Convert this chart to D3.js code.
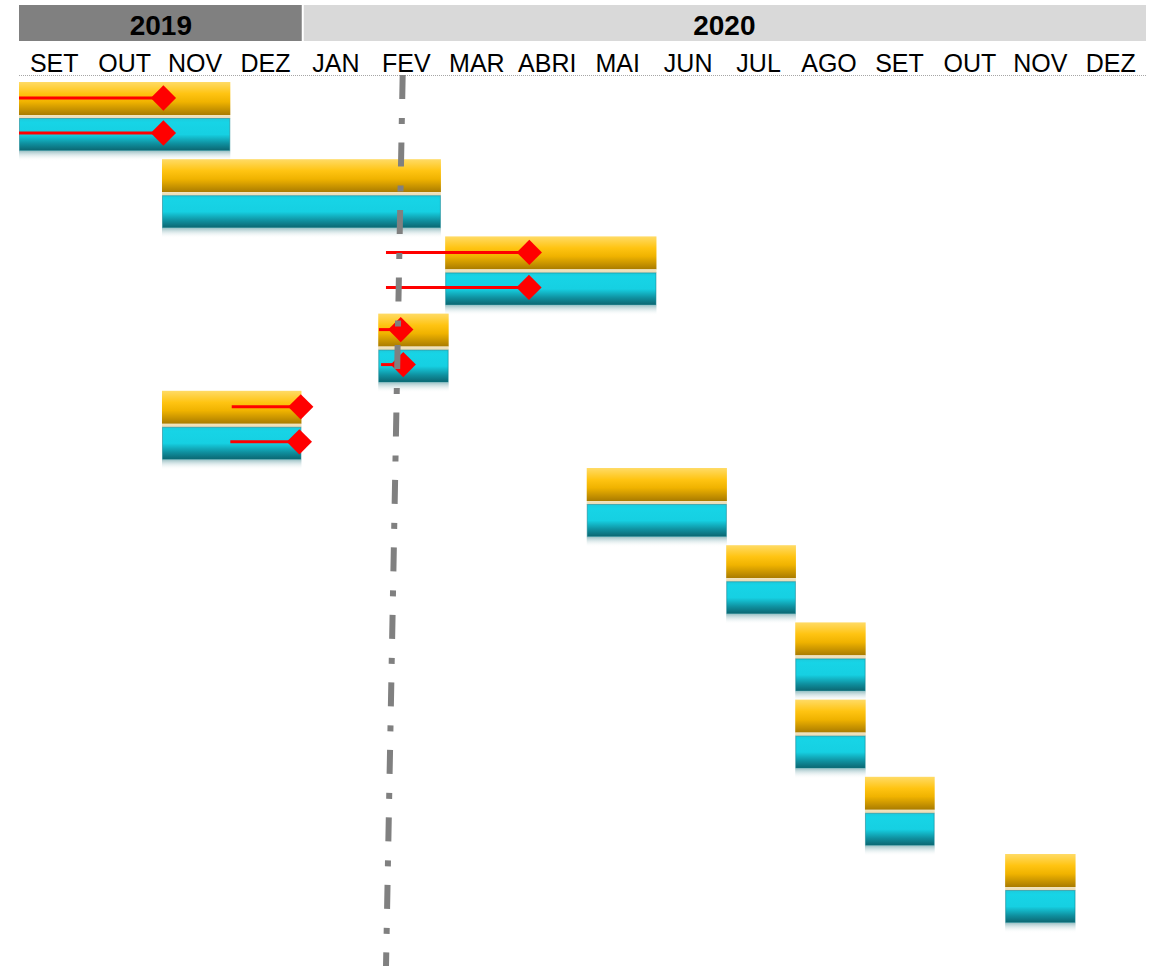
<!DOCTYPE html>
<html>
<head>
<meta charset="utf-8">
<script src="https://cdn.jsdelivr.net/npm/d3@7"></script>
<style>
  body { margin: 0; background: #fff; }
  text { font-family: "Liberation Sans", Arial, sans-serif; }
</style>
</head>
<body>
<div id="chart"></div>
<script>
// header data
var years = ["2019", "2020"];
var yearFrom = [0, 4];
var yearTo = [4, 16];
var months = ["SET", "OUT", "NOV", "DEZ", "JAN", "FEV", "MAR", "ABRI", "MAI", "JUN", "JUL", "AGO", "SET", "OUT", "NOV", "DEZ"];

// bars, in months since SET 2019
var barStart = [0, 2.03, 6.05, 5.1, 2.03, 8.06, 10.04, 11.02, 11.02, 12.01, 14.0];
var barEnd = [3.0, 5.99, 9.05, 6.1, 4.01, 10.05, 11.03, 12.02, 12.02, 13.0, 15.0];

// progress lines (red) on the orange and on the teal bar
var progOrangeFrom = [0, null, 5.21, 5.11, 3.02, null, null, null, null, null, null];
var progOrangeTo = [2.05, null, 7.245, 5.42, 4.0, null, null, null, null, null, null];
var progTealFrom = [0, null, 5.21, 5.14, 3.0, null, null, null, null, null, null];
var progTealTo = [2.05, null, 7.24, 5.455, 3.98, null, null, null, null, null, null];

// status date line (top, bottom)
var todayTop = 5.447;
var todayBottom = 5.21;

var W = 1161, H = 966;

var svg = d3.select("#chart").append("svg")
  .attr("width", W)
  .attr("height", H);

var x = d3.scaleLinear()
  .domain([0, 16])
  .range([19, 1146]);

var rows = d3.range(barStart.length);
var y = d3.scaleBand()
  .domain(rows)
  .range([82, 82 + rows.length * 77.2]);

var defs = svg.append("defs");

function grad(id, stops) {
  var g = defs.append("linearGradient")
    .attr("id", id)
    .attr("x1", 0).attr("y1", 0).attr("x2", 0).attr("y2", 1);
  stops.forEach(function (s) {
    g.append("stop").attr("offset", s[0]).attr("stop-color", s[1]).attr("stop-opacity", s[2] == null ? 1 : s[2]);
  });
}
grad("orangeGrad", [["0%", "#ffdb66"], ["35%", "#ffc412"], ["60%", "#f0b300"], ["100%", "#a97b00"]]);
grad("tealGrad", [["0%", "#1ccbdc"], ["12%", "#17d4e6"], ["50%", "#16d0e2"], ["78%", "#0f909f"], ["100%", "#0b6671"]]);
grad("stripGrad", [["0%", "#f3e4bd"], ["100%", "#e8dab5"]]);
grad("shadowGrad", [["0%", "#9fc3c7"], ["100%", "#ffffff", 0]]);

// year header
var header = svg.append("g");
header.selectAll("rect")
  .data(years)
  .enter()
  .append("rect")
  .attr("x", function (d, i) { return i == 0 ? x(yearFrom[i]) : x(yearFrom[i]) + 3; })
  .attr("y", 5)
  .attr("width", function (d, i) { return i == 0 ? x(yearTo[i]) - x(yearFrom[i]) + 1 : x(yearTo[i]) - x(yearFrom[i]) - 3; })
  .attr("height", 36)
  .style("fill", function (d, i) { return i == 0 ? "#808080" : "#d9d9d9"; });

header.selectAll("text")
  .data(years)
  .enter()
  .append("text")
  .attr("x", function (d, i) { return (x(yearFrom[i]) + x(yearTo[i])) / 2 + 1; })
  .attr("y", 35)
  .attr("text-anchor", "middle")
  .style("font-size", "28px")
  .style("font-weight", "bold")
  .style("fill", "#000")
  .text(function (d) { return d; });

// month labels
svg.append("g").selectAll("text")
  .data(months)
  .enter()
  .append("text")
  .attr("x", function (d, i) { return x(i + 0.5); })
  .attr("y", 71.5)
  .attr("text-anchor", "middle")
  .style("font-size", "25px")
  .style("fill", "#000")
  .text(function (d) { return d; });

svg.append("line")
  .attr("x1", x(0)).attr("x2", x(16) + 1)
  .attr("y1", 75.5).attr("y2", 75.5)
  .style("stroke", "#a6a6a6")
  .style("stroke-width", 1)
  .style("stroke-dasharray", "1,1");

// bars
var bars = svg.append("g").selectAll("g")
  .data(rows)
  .enter()
  .append("g")
  .attr("transform", function (i) { return "translate(0," + y(i) + ")"; });

bars.append("rect") // reflection under the teal bar
  .attr("x", function (i) { return x(barStart[i]); })
  .attr("y", 69)
  .attr("width", function (i) { return x(barEnd[i]) - x(barStart[i]); })
  .attr("height", 10)
  .style("fill", "url(#shadowGrad)");

bars.append("rect")
  .attr("x", function (i) { return x(barStart[i]); })
  .attr("y", 0)
  .attr("width", function (i) { return x(barEnd[i]) - x(barStart[i]); })
  .attr("height", 33)
  .style("fill", "url(#orangeGrad)");

bars.append("rect")
  .attr("x", function (i) { return x(barStart[i]); })
  .attr("y", 33)
  .attr("width", function (i) { return x(barEnd[i]) - x(barStart[i]); })
  .attr("height", 3.5)
  .style("fill", "url(#stripGrad)");

bars.append("rect")
  .attr("x", function (i) { return x(barStart[i]) + 0.5; })
  .attr("y", 36.5)
  .attr("width", function (i) { return x(barEnd[i]) - x(barStart[i]) - 1; })
  .attr("height", 32)
  .style("fill", "url(#tealGrad)")
  .style("stroke", "#10808c")
  .style("stroke-opacity", 0.55)
  .style("stroke-width", 1);

// progress lines + diamonds
function progress(from, to, dy) {
  var sel = bars.filter(function (i) { return from[i] != null; });
  sel.append("line")
    .attr("x1", function (i) { return x(from[i]); })
    .attr("x2", function (i) { return x(to[i]); })
    .attr("y1", dy).attr("y2", dy)
    .style("stroke", "#ff0000")
    .style("stroke-width", 3);
  sel.append("path")
    .attr("d", d3.symbol().type(d3.symbolSquare).size(320))
    .attr("transform", function (i) { return "translate(" + x(to[i]) + "," + dy + ") rotate(45)"; })
    .style("fill", "#ff0000");
}
progress(progOrangeFrom, progOrangeTo, 16);
progress(progTealFrom, progTealTo, 51);

// status line
svg.append("line")
  .attr("x1", x(todayTop)).attr("y1", 75)
  .attr("x2", x(todayBottom)).attr("y2", H + 2)
  .style("stroke", "#808080")
  .style("stroke-width", 6)
  .style("stroke-dasharray", "24,19,6,18.5");
</script>
</body>
</html>
